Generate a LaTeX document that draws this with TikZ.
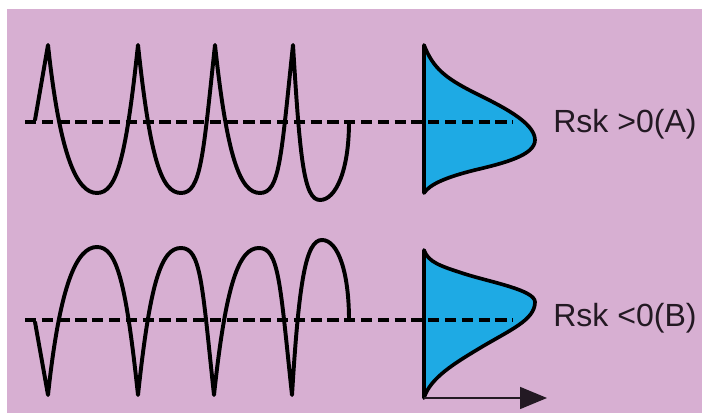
\documentclass[tikz,border=0pt]{standalone}
\usepackage{fontspec}
\setmainfont{Liberation Sans}
\usepackage{tikz}
\usetikzlibrary{arrows.meta}
\definecolor{mauvebg}{RGB}{215,175,210}
\definecolor{skyfill}{RGB}{30,170,228}
\definecolor{inkdark}{RGB}{35,25,35}

\begin{document}
\begin{tikzpicture}[
  >={Triangle[length=6.75mm, width=5.5mm]},
  wave/.style={line width=2.8pt, black, line join=round, line cap=round},
  refline/.style={line width=3.2pt, black, dash pattern=on 2.8mm off 1.4mm},
  dist/.style={line width=2.6pt, black, fill=skyfill, line join=round},
  lbl/.style={font=\fontsize{22.8}{27}\selectfont, text=inkdark,
              anchor=base west, inner sep=0pt}
]
\useasboundingbox (0,0) rectangle (17.55,10.425);
\fill[white] (0,0) rectangle (17.55,10.425);
\fill[mauvebg] (0.175,0.1) rectangle (17.55,10.2);

% (A) sharp peaks, round valleys
\draw[dist] (10.6,9.3) .. controls (10.825,8.725) and (11.125,8.475) .. (11.875,8.1)
  .. controls (12.475,7.8) and (13.375,7.375) .. (13.375,6.925)
  .. controls (13.375,6.55) and (12.625,6.35) .. (11.875,6.175)
  .. controls (11.175,6.0) and (10.75,5.825) .. (10.6,5.6) -- cycle;
\draw[refline] (0.625,7.375) -- (12.825,7.375);
\draw[wave] (0.875,7.425) -- (1.2,9.3)
  .. controls (1.5,6.5) and (1.925,5.6) .. (2.425,5.6)
  .. controls (2.925,5.6) and (3.15,6.5) .. (3.45,9.3)
  .. controls (3.75,6.5) and (4.025,5.6) .. (4.525,5.6)
  .. controls (5.025,5.6) and (5.075,6.5) .. (5.375,9.3)
  .. controls (5.675,6.5) and (6.0,5.6) .. (6.5,5.6)
  .. controls (7.0,5.6) and (7.025,6.5) .. (7.325,9.3)
  .. controls (7.5,6.425) and (7.6,5.425) .. (8.0,5.425)
  .. controls (8.4,5.425) and (8.725,6.175) .. (8.725,7.375);
\node[lbl] (rskA) at (13.825,7.1) {Rsk >0(A)};

% (B) round peaks, sharp valleys
\draw[dist] (10.6,4.175) .. controls (10.7,3.875) and (11.0,3.775) .. (11.625,3.575)
  .. controls (12.25,3.375) and (13.375,3.175) .. (13.375,2.875)
  .. controls (13.375,2.425) and (12.75,2.175) .. (12.0,1.725)
  .. controls (11.375,1.35) and (10.75,0.975) .. (10.6,0.475) -- cycle;
\draw[refline] (0.625,2.425) -- (12.825,2.425);
\draw[wave] (0.875,2.375) -- (1.2,0.55)
  .. controls (1.5,3.35) and (1.925,4.25) .. (2.425,4.25)
  .. controls (2.925,4.25) and (3.15,3.35) .. (3.45,0.55)
  .. controls (3.75,3.35) and (4.025,4.225) .. (4.525,4.225)
  .. controls (5.025,4.225) and (5.05,3.35) .. (5.35,0.55)
  .. controls (5.65,3.35) and (5.975,4.225) .. (6.475,4.225)
  .. controls (6.975,4.225) and (7.0,3.35) .. (7.3,0.55)
  .. controls (7.475,3.425) and (7.65,4.425) .. (8.05,4.425)
  .. controls (8.45,4.425) and (8.725,3.625) .. (8.725,2.425);
\node[lbl] (rskB) at (13.825,2.25) {Rsk <0(B)};

\coordinate (axis0) at (10.6,0.475);
\coordinate (axis1) at (13.675,0.475);
\draw[->, line width=1.1pt, inkdark] (axis0) -- (axis1);
\end{tikzpicture}
\end{document}
